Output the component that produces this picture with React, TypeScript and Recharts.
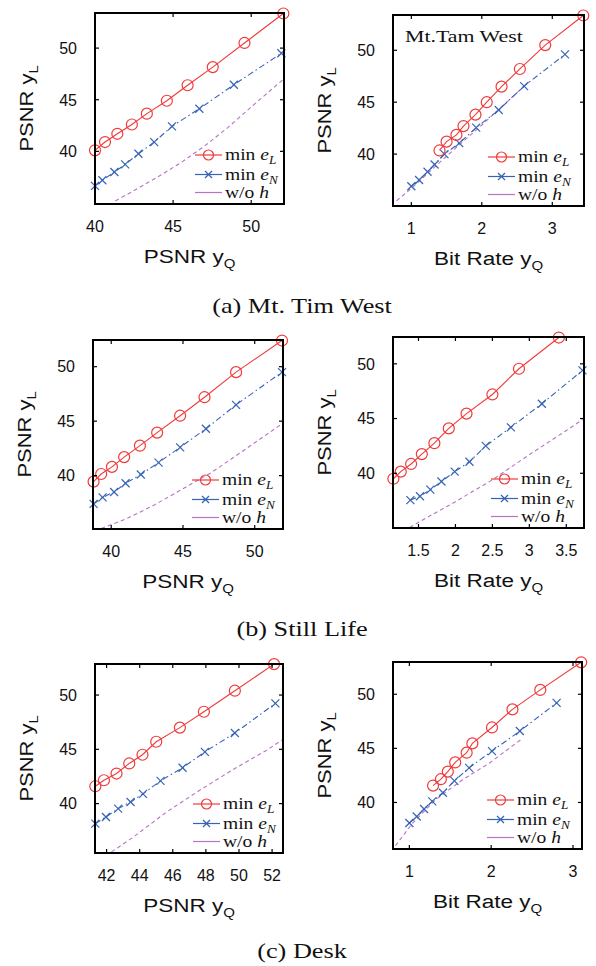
import { LineChart, Line, XAxis, YAxis } from 'recharts';

const RED = '#f03a3a';
const BLUE = '#3563b5';
const PURPLE = '#b774c4';
const INK = '#111';
const SANS = 'Liberation Sans, Arial, sans-serif';
const SERIF = 'Liberation Serif, Times New Roman, serif';

// (a) Mt. Tam West, PSNR yQ vs PSNR yL
const tamPsnrMinEL = [[40.0, 40.1], [40.64, 40.9], [41.43, 41.7], [42.36, 42.6], [43.32, 43.65], [44.6, 44.9], [45.93, 46.4], [47.54, 48.16], [49.57, 50.5], [52.06, 53.35]];
const tamPsnrMinEN = [[40.0, 36.65], [40.47, 37.2], [41.24, 38.0], [41.93, 38.74], [42.78, 39.77], [43.79, 40.9], [44.93, 42.42], [46.68, 44.13], [48.89, 46.45], [51.93, 49.5]];
const tamPsnrWoH = [[41.3, 35.2], [42.5, 36.2], [44.0, 37.5], [45.5, 38.9], [47.0, 40.5], [48.5, 42.3], [50.0, 44.3], [52.0, 46.9]];

// (a) Mt. Tam West, bit rate yQ
const tamRateMinEL = [[1.4, 40.35], [1.5, 41.2], [1.64, 41.85], [1.74, 42.7], [1.91, 43.8], [2.07, 45.0], [2.28, 46.5], [2.54, 48.2], [2.9, 50.5], [3.44, 53.35]];
const tamRateMinEN = [[1.0, 36.9], [1.11, 37.5], [1.23, 38.3], [1.33, 39.0], [1.47, 40.0], [1.68, 41.05], [1.92, 42.55], [2.24, 44.25], [2.6, 46.55], [3.18, 49.6]];
const tamRateWoH = [[0.79, 35.5], [1.0, 36.7], [1.5, 39.8], [2.0, 42.8], [2.4, 45.3], [2.67, 46.95]];

// (b) Still Life, PSNR yQ
const stillPsnrMinEL = [[38.77, 39.45], [39.3, 40.15], [40.05, 40.8], [40.9, 41.7], [42.0, 42.75], [43.2, 43.95], [44.8, 45.5], [46.5, 47.2], [48.7, 49.5], [51.9, 52.4]];
const stillPsnrMinEN = [[38.77, 37.4], [39.4, 38.0], [40.2, 38.5], [41.0, 39.3], [42.06, 40.1], [43.3, 41.2], [44.8, 42.6], [46.6, 44.3], [48.7, 46.5], [51.9, 49.5]];
const stillPsnrWoH = [[39.3, 35.15], [41.0, 36.0], [43.0, 37.3], [45.0, 38.8], [47.0, 40.3], [49.0, 42.1], [51.95, 44.8]];

// (b) Still Life, bit rate yQ
const stillRateMinEL = [[1.16, 39.5], [1.26, 40.15], [1.4, 40.85], [1.545, 41.75], [1.715, 42.75], [1.91, 44.1], [2.15, 45.45], [2.5, 47.2], [2.86, 49.55], [3.4, 52.4]];
const stillRateMinEN = [[1.39, 37.55], [1.52, 37.9], [1.66, 38.5], [1.81, 39.25], [1.99, 40.15], [2.19, 41.05], [2.41, 42.5], [2.75, 44.2], [3.17, 46.35], [3.72, 49.4]];
const stillRateWoH = [[1.38, 35.05], [1.6, 35.9], [2.0, 37.4], [2.5, 39.4], [3.0, 41.7], [3.5, 43.9], [3.72, 44.9]];

// (c) Desk, PSNR yQ
const deskPsnrMinEL = [[41.32, 41.6], [41.84, 42.15], [42.6, 42.77], [43.37, 43.7], [44.17, 44.5], [45.0, 45.7], [46.43, 47.0], [47.88, 48.46], [49.75, 50.4], [52.12, 52.85]];
const deskPsnrMinEN = [[41.32, 38.15], [41.96, 38.77], [42.7, 39.54], [43.45, 40.15], [44.2, 40.9], [45.26, 42.1], [46.59, 43.3], [47.94, 44.77], [49.75, 46.5], [52.2, 49.23]];
const deskPsnrWoH = [[42.3, 35.55], [43.6, 36.9], [45.6, 39.2], [47.6, 41.2], [49.6, 43.1], [51.66, 44.9], [52.6, 45.85]];

// (c) Desk, bit rate yQ
const deskRateMinEL = [[1.29, 41.56], [1.385, 42.15], [1.47, 42.85], [1.56, 43.7], [1.7, 44.6], [1.77, 45.46], [2.01, 46.93], [2.26, 48.6], [2.6, 50.4], [3.1, 52.95]];
const deskRateMinEN = [[1.0, 38.1], [1.09, 38.7], [1.18, 39.4], [1.28, 40.1], [1.41, 40.9], [1.55, 42.0], [1.73, 43.2], [2.01, 44.75], [2.35, 46.6], [2.8, 49.2]];
const deskRateWoH = [[0.83, 36.0], [1.04, 38.1], [1.32, 40.25], [1.65, 42.1], [1.97, 43.6], [2.38, 45.9]];

const yTicks = [40, 45, 50];
const psnrTicks = [40, 45, 50];
const rateTicks = [1, 2, 3];
const stillRateTicks = [1.5, 2, 2.5, 3, 3.5];
const deskPsnrTicks = [42, 44, 46, 48, 50, 52];

const captions = [
  { text: '(a) Mt. Tim West', y: 313 },
  { text: '(b) Still Life', y: 636 },
  { text: '(c) Desk', y: 958 },
];

// chart margins around the plot box
const ML = 95;
const MT = 15;
const MR = 10;
const MB = 75;

interface PanelSpec {
  left: number;
  top: number;
  w: number;
  h: number;
  xDomain: [number, number];
  xTicks: number[];
  yDomain: [number, number];
  xTitle: string;
  minEL: number[][];
  minEN: number[][];
  woH: number[][];
  legendDx: number;
}

const panels: PanelSpec[] = [
  { left: 95, top: 13, w: 189, h: 191, xDomain: [40, 52.1], xTicks: psnrTicks, yDomain: [34.9, 53.4], xTitle: 'PSNR y', minEL: tamPsnrMinEL, minEN: tamPsnrMinEN, woH: tamPsnrWoH, legendDx: 100 },
  { left: 393, top: 15, w: 191, h: 191, xDomain: [0.74, 3.45], xTicks: rateTicks, yDomain: [35.0, 53.4], xTitle: 'Bit Rate y', minEL: tamRateMinEL, minEN: tamRateMinEN, woH: tamRateWoH, legendDx: 95 },
  { left: 93, top: 340, w: 190, h: 189, xDomain: [38.73, 51.97], xTicks: psnrTicks, yDomain: [35.1, 52.45], xTitle: 'PSNR y', minEL: stillPsnrMinEL, minEN: stillPsnrMinEN, woH: stillPsnrWoH, legendDx: 99 },
  { left: 393, top: 337, w: 191, h: 191, xDomain: [1.155, 3.74], xTicks: stillRateTicks, yDomain: [35.0, 52.45], xTitle: 'Bit Rate y', minEL: stillRateMinEL, minEN: stillRateMinEN, woH: stillRateWoH, legendDx: 98 },
  { left: 95, top: 664, w: 188, h: 189, xDomain: [41.3, 52.66], xTicks: deskPsnrTicks, yDomain: [35.45, 52.86], xTitle: 'PSNR y', minEL: deskPsnrMinEL, minEN: deskPsnrMinEN, woH: deskPsnrWoH, legendDx: 98 },
  { left: 393, top: 662, w: 189, h: 187, xDomain: [0.8, 3.11], xTicks: rateTicks, yDomain: [35.7, 52.98], xTitle: 'Bit Rate y', minEL: deskRateMinEL, minEN: deskRateMinEN, woH: deskRateWoH, legendDx: 94 },
];

const toRows = (pts: number[][]) => pts.map(([x, y]) => ({ x, y }));

const RingDot = (props: any) => {
  const { cx, cy, index } = props;
  if (cx == null || cy == null) return <g key={index} />;
  return <circle key={index} cx={cx} cy={cy} r={5.5} fill="none" stroke={RED} strokeWidth={1.2} />;
};

const CrossDot = (props: any) => {
  const { cx, cy, index } = props;
  if (cx == null || cy == null) return <g key={index} />;
  const s = 4;
  return (
    <g key={index} stroke={BLUE} strokeWidth={1.2}>
      <line x1={cx - s} y1={cy - s} x2={cx + s} y2={cy + s} />
      <line x1={cx - s} y1={cy + s} x2={cx + s} y2={cy - s} />
    </g>
  );
};

// bottom / left ticks point inward, labels sit outside the box
const XTick = (props: any) => {
  const { x, y, payload } = props;
  return (
    <g>
      <line x1={x} x2={x} y1={y} y2={y - 4} stroke="#000" strokeWidth={1.2} />
      <text x={x} y={y + 28} textAnchor="middle" fill={INK} fontSize={16} fontFamily={SANS}>
        {payload.value}
      </text>
    </g>
  );
};

const YTick = (props: any) => {
  const { x, y, payload } = props;
  return (
    <g>
      <line x1={x} x2={x + 4} y1={y} y2={y} stroke="#000" strokeWidth={1.2} />
      <text x={x - 18} y={y + 5.8} textAnchor="end" fill={INK} fontSize={16} fontFamily={SANS}>
        {payload.value}
      </text>
    </g>
  );
};

function Panel({ p }: { p: PanelSpec }) {
  const W = ML + p.w + MR;
  const H = MT + p.h + MB;
  const frame = { stroke: '#000', strokeWidth: 1.6 };
  return (
    <div style={{ position: 'absolute', left: p.left - ML, top: p.top - MT, width: W, height: H }}>
      <LineChart width={W} height={H} margin={{ top: MT, right: MR, left: ML - 60, bottom: MB - 30 }}>
        <XAxis
          type="number"
          dataKey="x"
          domain={p.xDomain}
          ticks={p.xTicks}
          interval={0}
          height={30}
          tickSize={0}
          tickMargin={0}
          axisLine={frame}
          tickLine={false}
          tick={XTick}
          label={() => (
            <text
              transform={`translate(${ML + p.w / 2},${MT + p.h + 59}) scale(1.25,1)`}
              textAnchor="middle"
              fontFamily={SANS}
              fontSize={18}
              fill={INK}
            >
              {p.xTitle}
              <tspan dy={5} fontSize={12}>Q</tspan>
            </text>
          )}
        />
        <YAxis
          type="number"
          domain={p.yDomain}
          ticks={yTicks}
          interval={0}
          width={60}
          tickSize={0}
          tickMargin={0}
          axisLine={frame}
          tickLine={false}
          tick={YTick}
          label={() => (
            <text
              transform={`translate(${ML - 62},${MT + p.h / 2}) rotate(-90) scale(1.22,1)`}
              textAnchor="middle"
              fontFamily={SANS}
              fontSize={18}
              fill={INK}
            >
              PSNR y
              <tspan dy={5} fontSize={12}>L</tspan>
            </text>
          )}
        />
        <Line
          data={toRows(p.woH)}
          dataKey="y"
          type="linear"
          stroke={PURPLE}
          strokeWidth={1.1}
          strokeDasharray="4 3"
          dot={false}
          isAnimationActive={false}
        />
        <Line
          data={toRows(p.minEN)}
          dataKey="y"
          type="linear"
          stroke={BLUE}
          strokeWidth={1.1}
          strokeDasharray="6 3 1.5 3"
          dot={CrossDot}
          isAnimationActive={false}
        />
        <Line
          data={toRows(p.minEL)}
          dataKey="y"
          type="linear"
          stroke={RED}
          strokeWidth={1.1}
          dot={RingDot}
          isAnimationActive={false}
        />
      </LineChart>
      {/* box outline drawn with a plain CSS border on top of the plot area */}
      <div
        style={{
          position: 'absolute',
          left: ML - 1,
          top: MT - 1,
          width: p.w + 2,
          height: p.h + 2,
          border: '2px solid #000',
          boxSizing: 'border-box',
          pointerEvents: 'none',
        }}
      />
    </div>
  );
}

// inward tick marks on the top and right edges of the box
function BoxTicks({ p }: { p: PanelSpec }) {
  const [x0, x1] = p.xDomain;
  const [y0, y1] = p.yDomain;
  const right = p.left + p.w;
  const bottom = p.top + p.h;
  return (
    <g>
      {p.xTicks.map((t) => {
        const px = p.left + ((t - x0) / (x1 - x0)) * p.w;
        return <line key={'t' + t} x1={px} x2={px} y1={p.top} y2={p.top + 4} stroke="#000" strokeWidth={1.2} />;
      })}
      {yTicks.map((t) => {
        const py = bottom - ((t - y0) / (y1 - y0)) * p.h;
        return <line key={'r' + t} x1={right} x2={right - 4} y1={py} y2={py} stroke="#000" strokeWidth={1.2} />;
      })}
    </g>
  );
}

const legendRows = [
  { color: RED, marker: 'o', main: 'min ', it: 'e', sub: 'L' },
  { color: BLUE, marker: 'x', main: 'min ', it: 'e', sub: 'N' },
  { color: PURPLE, marker: '', main: 'w/o ', it: 'h', sub: '' },
];
const legendOffsets = [-49, -29.5, -11.5];

function PanelLegend({ p }: { p: PanelSpec }) {
  const x0 = p.left + p.legendDx;
  const bottom = p.top + p.h;
  return (
    <g>
      {legendRows.map((r, i) => {
        const cy = bottom + legendOffsets[i];
        const mx = x0 + 13.5;
        return (
          <g key={i}>
            <line x1={x0} x2={x0 + 27} y1={cy} y2={cy} stroke={r.color} strokeWidth={1.2} />
            {r.marker === 'o' && <circle cx={mx} cy={cy} r={5} fill="none" stroke={r.color} strokeWidth={1.2} />}
            {r.marker === 'x' && (
              <g stroke={r.color} strokeWidth={1.2}>
                <line x1={mx - 3.5} y1={cy - 3.5} x2={mx + 3.5} y2={cy + 3.5} />
                <line x1={mx - 3.5} y1={cy + 3.5} x2={mx + 3.5} y2={cy - 3.5} />
              </g>
            )}
            <text
              transform={`translate(${x0 + 30},${cy + 5}) scale(1.15,1)`}
              fontFamily={SERIF}
              fontSize={17}
              fill={INK}
            >
              {r.main}
              <tspan fontStyle="italic">{r.it}</tspan>
              {r.sub && (
                <tspan fontStyle="italic" fontSize={11.5} dy={4}>{r.sub}</tspan>
              )}
            </text>
          </g>
        );
      })}
    </g>
  );
}

export default function App() {
  return (
    <div style={{ position: 'absolute', left: 0, top: 0, width: 596, height: 966, background: '#fff', overflow: 'hidden' }}>
      {panels.map((p, i) => (
        <Panel key={i} p={p} />
      ))}
      <svg width={596} height={966} style={{ position: 'absolute', left: 0, top: 0, pointerEvents: 'none' }}>
        {panels.map((p, i) => (
          <BoxTicks key={i} p={p} />
        ))}
        {panels.map((p, i) => (
          <PanelLegend key={i} p={p} />
        ))}
        <text transform="translate(405,42) scale(1.25,1)" fontFamily={SERIF} fontSize={17.5} fill={INK}>
          Mt.Tam West
        </text>
        {captions.map((c) => (
          <text
            key={c.text}
            transform={`translate(302,${c.y}) scale(1.25,1)`}
            textAnchor="middle"
            fontFamily={SERIF}
            fontSize={21}
            fill={INK}
          >
            {c.text}
          </text>
        ))}
      </svg>
    </div>
  );
}
